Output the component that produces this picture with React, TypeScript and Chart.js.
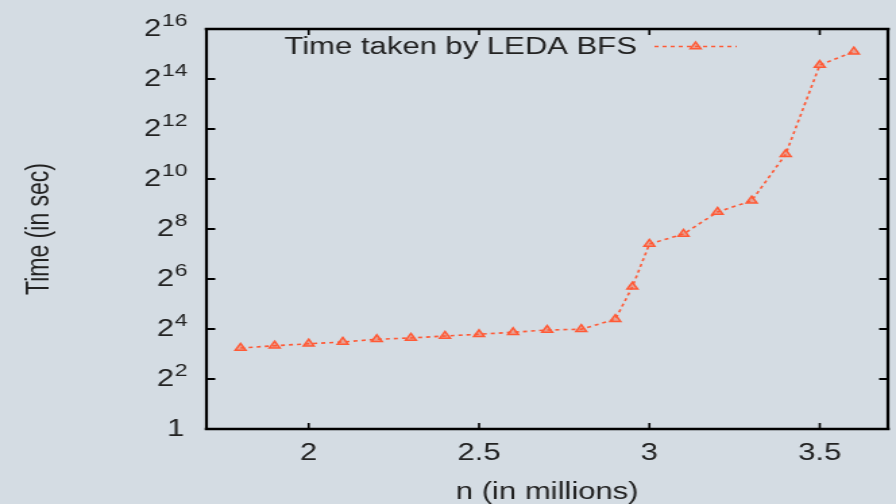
import { useEffect, useRef } from 'react';
import { Chart, registerables } from 'chart.js';

Chart.register(...registerables);

// ---- data ----
const seriesLabel = 'Time taken by LEDA BFS';
const nMillions = [1.8, 1.9, 2.0, 2.1, 2.2, 2.3, 2.4, 2.5, 2.6, 2.7, 2.8, 2.9, 2.95, 3.0, 3.1, 3.2, 3.3, 3.4, 3.5, 3.6];
const timeSec = [9.45, 10.06, 10.63, 11.16, 12.04, 12.47, 13.18, 13.83, 14.62, 15.56, 15.89, 20.97, 51.6, 168.9, 222.9, 410.2, 560.3, 2034, 24150, 34880];
const xTickValues = [2, 2.5, 3, 3.5];
const yTickExponents = [0, 2, 4, 6, 8, 10, 12, 14, 16];
const xTitle = 'n (in millions)';
const yTitle = 'Time (in sec)';

// ---- style ----
const BG = '#d4dce3';
const LINE = '#ff5a36';
const TEXT = '#222222';
const FONT = '"Liberation Sans", Arial, Helvetica, sans-serif';
const CANVAS_W = 664; // drawn narrower, then stretched to 896 px wide like the reference
const CANVAS_H = 504;

export default function App() {
  const ref = useRef<HTMLCanvasElement>(null);

  useEffect(() => {
    const canvas = ref.current;
    if (!canvas) return;

    const bgPlugin = {
      id: 'bgFill',
      beforeDraw(chart: any) {
        const { ctx, width, height } = chart;
        ctx.save();
        ctx.fillStyle = BG;
        ctx.fillRect(0, 0, width, height);
        ctx.restore();
      },
    };

    const framePlugin = {
      id: 'frame',
      afterDatasetsDraw(chart: any) {
        const { ctx, chartArea, scales } = chart;
        const { left, right, top, bottom } = chartArea;
        const xs = scales.x;
        const ys = scales.y;
        ctx.save();
        ctx.strokeStyle = '#000';
        ctx.lineCap = 'square';
        ctx.lineWidth = 2.5;
        ctx.beginPath();
        ctx.moveTo(left, top); ctx.lineTo(right, top);
        ctx.moveTo(left, bottom); ctx.lineTo(right, bottom);
        ctx.stroke();
        ctx.lineWidth = 2.2;
        ctx.beginPath();
        ctx.moveTo(left, top); ctx.lineTo(left, bottom);
        ctx.moveTo(right, top); ctx.lineTo(right, bottom);
        ctx.stroke();
        ctx.lineCap = 'butt';
        ctx.lineWidth = 1.6;
        ctx.beginPath();
        for (const t of xs.ticks) {
          const px = xs.getPixelForValue(t.value);
          ctx.moveTo(px, bottom); ctx.lineTo(px, bottom - 6);
          ctx.moveTo(px, top); ctx.lineTo(px, top + 6);
        }
        ctx.stroke();
        ctx.lineWidth = 2.2;
        ctx.beginPath();
        for (const t of ys.ticks) {
          const py = ys.getPixelForValue(t.value);
          ctx.moveTo(left, py); ctx.lineTo(left + 6.5, py);
          ctx.moveTo(right, py); ctx.lineTo(right - 6.5, py);
        }
        ctx.stroke();
        ctx.restore();
      },
    };

    const yLabelPlugin = {
      id: 'yPowLabels',
      afterDraw(chart: any) {
        const { ctx, chartArea, scales } = chart;
        const ys = scales.y;
        const rightEdge = chartArea.left - 14;
        ctx.save();
        ctx.fillStyle = TEXT;
        ctx.textBaseline = 'middle';
        ctx.textAlign = 'right';
        for (const e of yTickExponents) {
          const py = ys.getPixelForValue(Math.pow(2, e));
          if (e === 0) {
            ctx.font = `23px ${FONT}`;
            ctx.fillText('1', rightEdge - 2.5, py + 1);
            continue;
          }
          const exp = String(e);
          ctx.font = `17px ${FONT}`;
          const w = ctx.measureText(exp).width;
          ctx.fillText(exp, rightEdge, py - 8);
          ctx.font = `23px ${FONT}`;
          ctx.fillText('2', rightEdge - w - 0.5, py + 1);
        }
        ctx.restore();
      },
    };

    const legendPlugin = {
      id: 'gnuLegend',
      afterDraw(chart: any) {
        const { ctx } = chart;
        const ds = chart.data.datasets[0];
        ctx.save();
        ctx.fillStyle = TEXT;
        ctx.font = `23px ${FONT}`;
        ctx.textAlign = 'right';
        ctx.textBaseline = 'alphabetic';
        ctx.fillText(ds.label, 472, 53.5);
        const y = 46.5;
        ctx.strokeStyle = LINE;
        ctx.lineWidth = 1.6;
        ctx.setLineDash([3, 3]);
        ctx.beginPath();
        ctx.moveTo(485, y);
        ctx.lineTo(546, y);
        ctx.stroke();
        ctx.setLineDash([]);
        const cx = 515.5;
        const r = 4.5;
        ctx.beginPath();
        ctx.moveTo(cx, y - r);
        ctx.lineTo(cx + r * 0.866, y + r * 0.5);
        ctx.lineTo(cx - r * 0.866, y + r * 0.5);
        ctx.closePath();
        ctx.fillStyle = 'rgba(255,90,54,0.45)';
        ctx.fill();
        ctx.lineWidth = 1.5;
        ctx.stroke();
        ctx.restore();
      },
    };

    const chart = new Chart(canvas, {
      type: 'line',
      data: {
        datasets: [
          {
            label: seriesLabel,
            data: nMillions.map((x, i) => ({ x, y: timeSec[i] })),
            borderColor: LINE,
            borderWidth: 1.6,
            borderDash: [3, 3],
            pointStyle: 'triangle',
            pointRadius: 4.5,
            pointBorderWidth: 1.5,
            pointBackgroundColor: 'rgba(255,90,54,0.45)',
            pointBorderColor: LINE,
            fill: false,
            tension: 0,
          },
        ],
      },
      options: {
        responsive: false,
        animation: false,
        devicePixelRatio: 1,
        layout: { padding: { top: 29, right: 3, left: 0, bottom: 0 } },
        plugins: {
          legend: { display: false },
          tooltip: { enabled: false },
          title: { display: false },
        },
        scales: {
          x: {
            type: 'linear',
            min: 1.7,
            max: 3.7,
            grid: { display: false, drawTicks: false },
            border: { display: false },
            afterBuildTicks: (s: any) => {
              s.ticks = xTickValues.map((v) => ({ value: v }));
            },
            afterFit: (s: any) => {
              s.height = 75;
            },
            ticks: {
              font: { family: FONT, size: 23 },
              color: TEXT,
              padding: 11,
              maxRotation: 0,
              autoSkip: false,
              callback: (v: any) => String(v),
            },
            title: {
              display: true,
              text: xTitle,
              color: TEXT,
              font: { family: FONT, size: 23, lineHeight: 1 },
              padding: { top: 0, bottom: 0 },
            },
          },
          y: {
            type: 'logarithmic',
            min: 1,
            max: 65536,
            grid: { display: false, drawTicks: false },
            border: { display: false },
            afterBuildTicks: (s: any) => {
              s.ticks = yTickExponents.map((e) => ({ value: Math.pow(2, e) }));
            },
            afterFit: (s: any) => {
              s.width = 153;
            },
            ticks: { display: false },
            title: {
              display: true,
              text: yTitle,
              color: TEXT,
              font: { family: FONT, size: 23, lineHeight: 1.2 },
              padding: { top: 15.8, bottom: 0 },
            },
          },
        },
      } as any,
      plugins: [bgPlugin, framePlugin, yLabelPlugin, legendPlugin],
    });

    return () => chart.destroy();
  }, []);

  return (
    <canvas
      ref={ref}
      width={CANVAS_W}
      height={CANVAS_H}
      style={{ position: 'fixed', left: 0, top: 0, width: '896px', height: '504px' }}
    />
  );
}
